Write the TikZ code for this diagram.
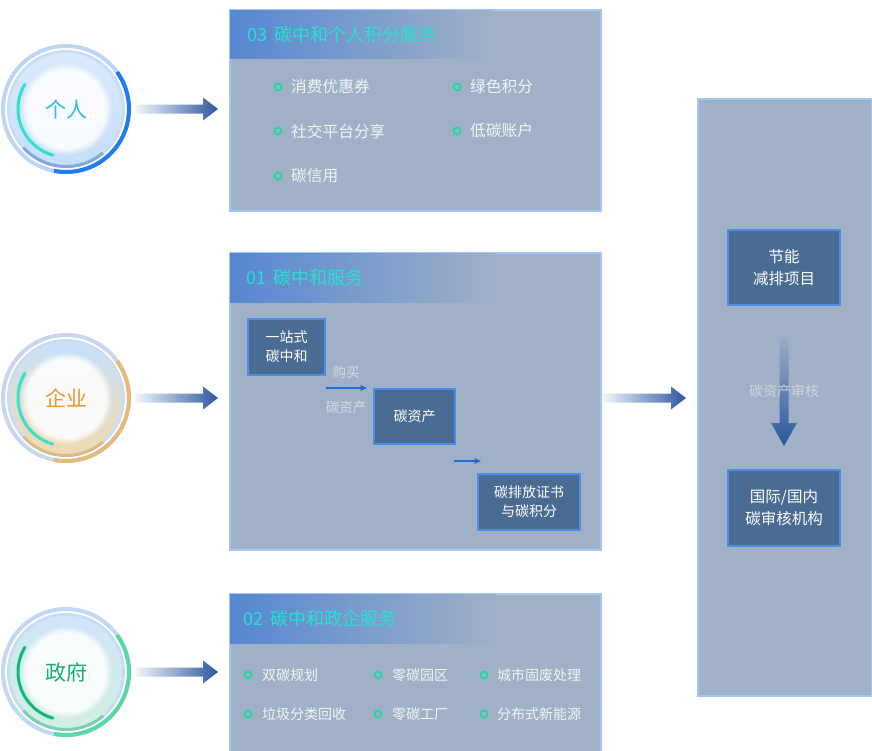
\documentclass[tikz,border=0pt]{standalone}
\usepackage{fontspec}
\setmainfont{Noto Sans CJK SC}
\usetikzlibrary{fadings,arrows.meta}
\definecolor{boxbg}{HTML}{A0B0C6}
\definecolor{panelborder}{HTML}{A2C6F8}
\definecolor{hdrL}{HTML}{5687D2}
\definecolor{titlec}{HTML}{22E3CF}
\definecolor{itemc}{HTML}{F2F5F8}
\definecolor{bulletc}{HTML}{1ED9A0}
\definecolor{inboxfill}{HTML}{4A6B92}
\definecolor{inboxborder}{HTML}{4A8FE5}
\definecolor{arrL}{HTML}{F4F7FB}
\definecolor{arrR}{HTML}{2B579E}
\definecolor{smallarr}{HTML}{1F6DD2}
\definecolor{lblc}{HTML}{D3DAE4}
% roundel colours
\definecolor{aTop}{HTML}{DAEAFC}\definecolor{aBot}{HTML}{C6DEFA}
\definecolor{aRing}{HTML}{BFD5F5}\definecolor{aRingB}{HTML}{CADDF7}
\definecolor{aArc}{HTML}{1F7CF2}\definecolor{aSeg}{HTML}{6E9AD8}
\definecolor{aSmall}{HTML}{30E3C8}\definecolor{aText}{HTML}{29BDF0}
\definecolor{bTop}{HTML}{C6E1FA}\definecolor{bBot}{HTML}{F0DAB2}
\definecolor{bRing}{HTML}{C8D6EE}\definecolor{bRingB}{HTML}{CBDBF2}
\definecolor{bArc}{HTML}{E4BB78}\definecolor{bSeg}{HTML}{DDB36A}
\definecolor{bSmall}{HTML}{3EE0C6}\definecolor{bText}{HTML}{E39B2E}
\definecolor{cTop}{HTML}{D0E5FB}\definecolor{cBot}{HTML}{D0EFDF}
\definecolor{cRing}{HTML}{C2D8F5}\definecolor{cRingB}{HTML}{C8DCF6}
\definecolor{cArc}{HTML}{58D9A5}\definecolor{cSeg}{HTML}{6CC9A8}
\definecolor{cSmall}{HTML}{12B877}\definecolor{cText}{HTML}{16AE6E}

\tikzset{
  panel/.style={draw=panelborder, fill=boxbg, line width=2pt, inner sep=0pt, anchor=north west},
  titletext/.style={anchor=west, text=titlec, font=\fontsize{18}{20}\selectfont, inner sep=0pt},
  itemtext/.style={anchor=west, text=itemc, font=\fontsize{15.7}{18}\selectfont, inner sep=0pt},
  itemsmall/.style={anchor=west, text=itemc, font=\fontsize{14}{17}\selectfont, inner sep=0pt},
  bullet/.style={circle, draw=bulletc, fill=boxbg, line width=1.8pt, minimum size=7pt, inner sep=0pt},
  inbox/.style={draw=inboxborder, fill=inboxfill, line width=2pt, align=center, text=white,
     font=\fontsize{14}{19}\selectfont, inner sep=0pt},
  inboxbig/.style={inbox, font=\fontsize{15.5}{22}\selectfont},
  lbl/.style={text=lblc, font=\fontsize{13.5}{16}\selectfont, inner sep=0pt},
  thinarrow/.style={draw=smallarr, line width=1.3pt, -{Stealth[length=7pt,width=6pt]}},
}

\newcommand\roundel[4]{% name, x, y, prefix
  \begin{scope}[shift={(#2,#3)}]
    \shade[top color=#4Top, bottom color=#4Bot] (0,0) circle (56pt);
    \fill[white, opacity=.88, path fading=circle with fuzzy edge 15 percent] (0,0) circle (46pt);
    \draw[#4Ring, line width=4pt] (0,0) circle (63pt);
    \draw[#4RingB, line width=3pt] (0,0) circle (57.5pt);
    \draw[#4Arc, line width=4pt] (36:63pt) arc[start angle=36, end angle=-101, radius=63pt];
    \draw[#4Seg, line width=3pt, opacity=.8] (-50:57.5pt) arc[start angle=-50, end angle=-138, radius=57.5pt];
    \draw[#4Small, line width=3pt, line cap=round] (149:48pt) arc[start angle=149, end angle=254, radius=48pt];
  \end{scope}
}
\newcommand\fatarrow[3]{% x start, x tip, y
  \shade[left color=arrL, right color=arrR]
    (#1,#3-4.5) -- (#2-15,#3-4.5) -- (#2-15,#3-11.5) -- (#2,#3)
    -- (#2-15,#3+11.5) -- (#2-15,#3+4.5) -- (#1,#3+4.5) -- cycle;
}

\begin{document}
\begin{tikzpicture}[x=1pt,y=-1pt]
\useasboundingbox (0,0) rectangle (872,750);
\fill[white] (0,0) rectangle (872,750);

% ---------- roundels ----------
\roundel{ge}{66}{109}{a}
\node[text=aText, font=\fontsize{21}{24}\selectfont] (ge) at (66,109) {个人};
\roundel{qy}{66}{398}{b}
\node[text=bText, font=\fontsize{21}{24}\selectfont] (qy) at (66,398) {企业};
\roundel{zf}{66}{672}{c}
\node[text=cText, font=\fontsize{21}{24}\selectfont] (zf) at (66,672) {政府};

% ---------- panels ----------
\node[panel, minimum width=371pt, minimum height=201pt] (p03) at (229,9) {};
\shade[left color=hdrL, right color=boxbg] (230,10) rectangle (490,58);
\node[panel, minimum width=371pt, minimum height=297pt] (p01) at (229,252) {};
\shade[left color=hdrL, right color=boxbg] (230,253) rectangle (495,302);
\node[panel, minimum width=371pt, minimum height=170pt] (p02) at (229,593) {};
\shade[left color=hdrL, right color=boxbg] (230,594) rectangle (495,643);
\node[panel, minimum width=174pt, minimum height=597pt] (pR) at (697,98) {};

% ---------- fat arrows ----------
\fatarrow{135}{218}{109}
\fatarrow{135}{218}{398}
\fatarrow{135}{218}{672}
\fatarrow{602}{686}{398}

% ---------- panel 03 ----------
\node[titletext] (t03) at (247,35) {03\hspace{7pt}碳中和个人积分服务};
\node[bullet] (b31) at (278,87) {};  \node[itemtext] (i31) at (291,87) {消费优惠券};
\node[bullet] (b32) at (457,87) {};  \node[itemtext] (i32) at (470,87) {绿色积分};
\node[bullet] (b33) at (278,131) {}; \node[itemtext] (i33) at (291,131) {社交平台分享};
\node[bullet] (b34) at (457,131) {}; \node[itemtext] (i34) at (470,131) {低碳账户};
\node[bullet] (b35) at (278,176) {}; \node[itemtext] (i35) at (291,176) {碳信用};

% ---------- panel 01 ----------
\node[titletext] (t01) at (246,278) {01\hspace{7pt}碳中和服务};
\node[inbox, minimum width=77pt, minimum height=56pt] (n1) at (286.5,347) {一站式\\碳中和};
\node[inbox, minimum width=81pt, minimum height=55pt] (n2) at (414.5,416.5) {碳资产};
\node[inbox, minimum width=102pt, minimum height=56pt] (n3) at (529,502) {碳排放证书\\与碳积分};
\coordinate (s1a) at (326,388); \coordinate (s1b) at (367,388);
\draw[thinarrow] (s1a) -- (s1b);
\node[lbl] (l1) at (346,372) {购买};
\node[lbl] (l2) at (346,407) {碳资产};
\coordinate (s2a) at (454,461); \coordinate (s2b) at (481,461);
\draw[thinarrow] (s2a) -- (s2b);

% ---------- panel 02 ----------
\node[titletext] (t02) at (243,619) {02\hspace{7pt}碳中和政企服务};
\node[bullet] (b21) at (248,675) {}; \node[itemsmall] (i21) at (262,675) {双碳规划};
\node[bullet] (b22) at (378,675) {}; \node[itemsmall] (i22) at (392,675) {零碳园区};
\node[bullet] (b23) at (484,675) {}; \node[itemsmall] (i23) at (497,675) {城市固废处理};
\node[bullet] (b24) at (248,714) {}; \node[itemsmall] (i24) at (262,714) {垃圾分类回收};
\node[bullet] (b25) at (378,714) {}; \node[itemsmall] (i25) at (392,714) {零碳工厂};
\node[bullet] (b26) at (484,714) {}; \node[itemsmall] (i26) at (497,714) {分布式新能源};

% ---------- right panel ----------
\node[inboxbig, minimum width=112pt, minimum height=75pt] (r1) at (784,267.5) {节能\\减排项目};
\node[inboxbig, minimum width=112pt, minimum height=76pt] (r2) at (784,508) {国际/国内\\碳审核机构};
\shade[top color=boxbg, bottom color=arrR]
  (779.5,333) -- (788.5,333) -- (788.5,423) -- (797,423) -- (784,446)
  -- (771,423) -- (779.5,423) -- cycle;
\node[lbl, font=\fontsize{14}{16}\selectfont, opacity=.85] (l3) at (784,391) {碳资产审核};
\end{tikzpicture}
\end{document}
